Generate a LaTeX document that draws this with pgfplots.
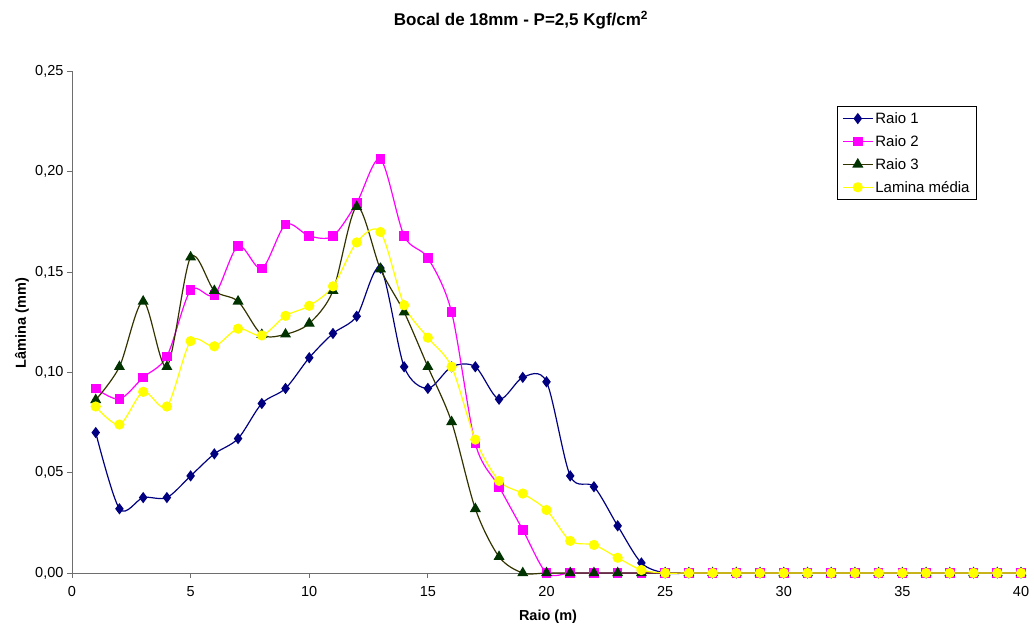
\documentclass[border=0pt]{standalone}
\usepackage{pgfplots}
\usepackage{pgfplotstable}
\pgfplotsset{compat=1.18}
\usepackage{fontspec}
\setmainfont{Liberation Sans}
\definecolor{rone}{RGB}{0,0,128}
\definecolor{rtwo}{RGB}{255,0,255}
\definecolor{rthreeline}{RGB}{51,51,0}
\definecolor{rthreefill}{RGB}{0,51,0}
\definecolor{lmed}{RGB}{255,255,0}
\definecolor{axgray}{RGB}{110,110,110}
\pgfplotstableread{
x r1 r2 r3 lm
1 0.0700 0.0920 0.0863 0.0830
2 0.0320 0.0867 0.1028 0.0740
3 0.0376 0.0975 0.1354 0.0903
4 0.0376 0.1080 0.1028 0.0830
5 0.0484 0.1410 0.1574 0.1156
6 0.0594 0.1386 0.1407 0.1130
7 0.0670 0.1630 0.1354 0.1218
8 0.0845 0.1517 0.1188 0.1184
9 0.0920 0.1737 0.1190 0.1282
10 0.1073 0.1680 0.1244 0.1332
11 0.1194 0.1680 0.1407 0.1429
12 0.1280 0.1845 0.1826 0.1648
13 0.1520 0.2063 0.1515 0.1700
14 0.1028 0.1680 0.1300 0.1335
15 0.0920 0.1570 0.1028 0.1173
16 0.1028 0.1300 0.0753 0.1028
17 0.1028 0.0645 0.0320 0.0665
18 0.0866 0.0430 0.0081 0.0459
19 0.0975 0.0215 0 0.0396
20 0.0953 0 0 0.0314
21 0.0484 0 0 0.0160
22 0.0430 0 0 0.0140
23 0.0235 0 0 0.0076
24 0.0050 0 0 0.0015
25 0 0 0 0
26 0 0 0 0
27 0 0 0 0
28 0 0 0 0
29 0 0 0 0
30 0 0 0 0
31 0 0 0 0
32 0 0 0 0
33 0 0 0 0
34 0 0 0 0
35 0 0 0 0
36 0 0 0 0
37 0 0 0 0
38 0 0 0 0
39 0 0 0 0
40 0 0 0 0
}\datatable
\begin{document}
\begin{tikzpicture}
\begin{axis}[
  at={(0,0)}, anchor=origin,
  scale only axis, width=949pt, height=501.5pt,
  xmin=0, xmax=40, ymin=0, ymax=0.25,
  axis lines*=left,
  axis line style={axgray, line width=0.9pt},
  xtick={0,5,...,40},
  ytick={0,0.05,0.1,0.15,0.2,0.25},
  tick align=outside,
  major tick length=5pt,
  tick style={axgray, line width=0.9pt},
  tick label style={font=\fontsize{14.5}{17}\selectfont},
  /pgf/number format/assume math mode=true,
  yticklabel style={/pgf/number format/.cd, fixed, fixed zerofill, precision=2, use comma},
  xticklabel style={yshift=-5pt, /pgf/number format/.cd, fixed, precision=0},
  clip=false,
  legend style={at={(0.806,0.931)}, anchor=north west, draw=black, line width=0.6pt,
     font=\fontsize{15}{17}\selectfont, inner xsep=5pt, inner ysep=4pt,
     row sep=6.5pt, cells={anchor=west}},
  legend cell align=left,
  legend image code/.code={\draw[mark repeat=2,mark phase=2] plot coordinates {(0pt,0pt)(15pt,0pt)(30pt,0pt)};},
]
\addplot[rone, line width=1.2pt, smooth, tension=0.5, mark=diamond*, mark size=4.7pt, mark options={fill=rone, solid}] table[x=x,y=r1]{\datatable};
\addlegendentry{Raio 1}
\addplot[rtwo, line width=1.2pt, smooth, tension=0.5, mark=square*, mark size=4.2pt, mark options={fill=rtwo, solid}] table[x=x,y=r2]{\datatable};
\addlegendentry{Raio 2}
\addplot[rthreeline, line width=1.2pt, smooth, tension=0.5, mark=triangle*, mark size=5.2pt, mark options={fill=rthreefill, draw=rthreefill, solid}] table[x=x,y=r3]{\datatable};
\addlegendentry{Raio 3}
\addplot[lmed, line width=1.2pt, smooth, tension=0.5, mark=*, mark size=4.5pt, mark options={fill=lmed, draw=lmed, solid}] table[x=x,y=lm]{\datatable};
\addlegendentry{Lamina média}
\end{axis}
\node[font=\bfseries\fontsize{17}{20}\selectfont] at (449pt,553pt) {Bocal de 18mm - P=2,5 Kgf/cm\textsuperscript{2}};
\node[font=\bfseries\fontsize{14.5}{17}\selectfont, rotate=90] at (-50pt,250pt) {Lâmina (mm)};
\node[font=\bfseries\fontsize{14.5}{17}\selectfont] at (476pt,-44pt) {Raio (m)};
\pgfresetboundingbox
\path[use as bounding box] (-72pt,-58pt) rectangle (962pt,573pt);
\end{tikzpicture}
\end{document}
